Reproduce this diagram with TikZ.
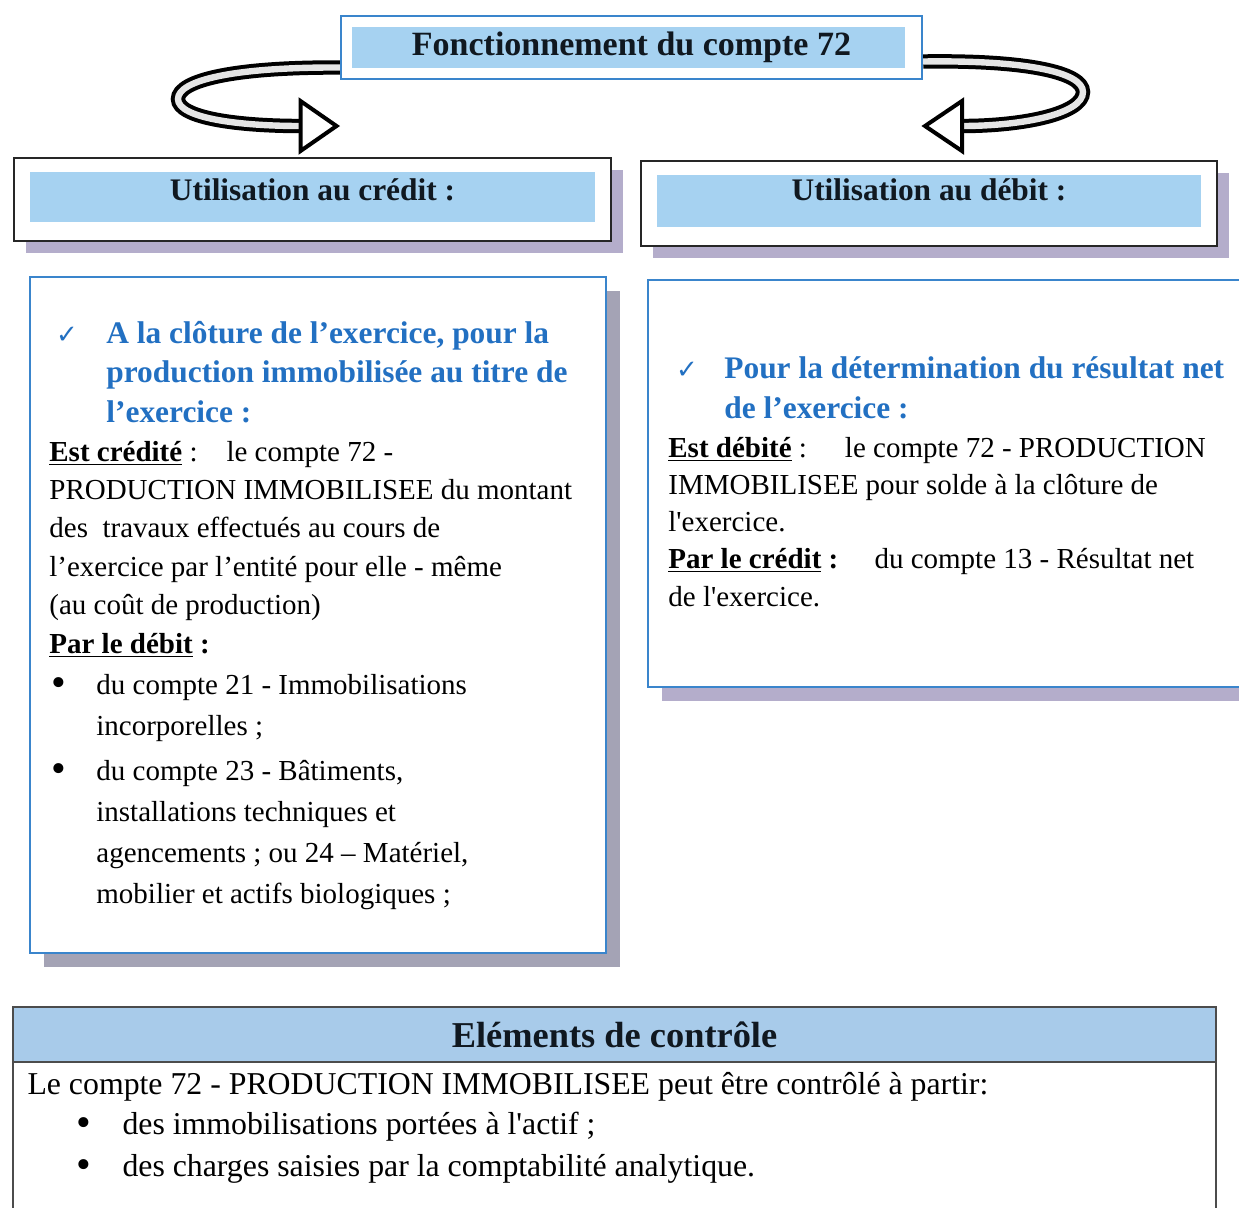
\documentclass[tikz,border=0pt]{standalone}
\usepackage{fontspec}
\setmainfont{Liberation Serif}
\newfontfamily\symbfont{DejaVu Sans}
\usepackage{xcolor}
\usepackage{tikz}
\usetikzlibrary{positioning,shadows,backgrounds}

\newcommand{\fsz}[2]{\fontsize{#1}{#2}\selectfont}

\begin{document}
\begin{tikzpicture}[
  x=0.5pt, y=-0.5pt,
  font=\fsz{14.5}{19.2},
  titlebox/.style={
    draw=frameblue,
    fill=white,
    line width=1.2pt,
    minimum width=290.5pt,
    minimum height=31.5pt,
    inner sep=0pt,
    text=inkdark,
    font=\bfseries\fsz{17}{20},
    path picture={\fill[bandblue] ([shift={(5.5pt,-5.5pt)}]path picture bounding box.north west)
      rectangle ([shift={(-8.5pt,5.5pt)}]path picture bounding box.south east);}
  },
  usebox/.style={
    draw=black!85,
    fill=white,
    line width=1pt,
    inner sep=0pt,
    text=inkdark,
    font=\bfseries\fsz{15.7}{18},
    general shadow={shadow xshift=6pt,shadow yshift=-6pt,fill=shadelav},
    path picture={\fill[bandblue] ([shift={(8pt,-7pt)}]path picture bounding box.north west)
      rectangle ([shift={(-8pt,9.5pt)}]path picture bounding box.south east);}
  },
  panel/.style={
    draw=frameblue,
    fill=white,
    line width=1pt,
    inner sep=0pt,
    general shadow={shadow xshift=7pt,shadow yshift=-7pt,fill=#1}
  },
  ctrlbox/.style={draw=black!70,fill=white,line width=0.9pt,inner sep=0pt},
  ctrlhead/.style={draw=black!70,fill=headblue,line width=0.9pt,inner sep=0pt,
    text=inkdark,font=\bfseries\fsz{18.2}{20}},
  ribbon/.style={draw=black,line width=2pt,double=black!10,double distance=3.2pt},
  ribbonhead/.style={draw=black,fill=white,line width=2pt,line join=miter},
  bluehead/.style={anchor=base west,inner sep=0pt,align=left,text=textblue,
    font=\bfseries\fsz{15.7}{19.75}},
  tick/.style={anchor=base,inner sep=0pt,text=textblue,font=\symbfont\fsz{13}{14}},
  bodytext/.style={anchor=base west,inner sep=0pt,align=left},
  dot/.style={anchor=base,inner sep=0pt,font=\fsz{21}{22}}
]
\definecolor{frameblue}{HTML}{3A85CC}
\definecolor{bandblue}{HTML}{A6D2F1}
\definecolor{headblue}{HTML}{A8CBEA}
\definecolor{textblue}{HTML}{2270C2}
\definecolor{shadelav}{HTML}{B4ADCB}
\definecolor{shadegrey}{HTML}{A4A3B5}
\definecolor{inkdark}{HTML}{101820}

\path[use as bounding box,fill=white] (0,0) rectangle (1239,1207);

% top and the two uses
\node[titlebox] (title) at (631.5,47.5) {Fonctionnement du compte 72};
\node[usebox, minimum width=298.5pt, minimum height=41.5pt, text depth=9.5pt] (credit) at (312.5,199.5) {Utilisation au crédit :};
\node[usebox, minimum width=288pt, minimum height=42.5pt, text depth=13.5pt, right=14pt of credit, yshift=-2pt] (debit) {Utilisation au débit :};

\node[panel=shadegrey, minimum width=288pt, minimum height=338pt, below=17pt of credit, xshift=2.75pt] (lbox) {};
\node[panel=shadelav, minimum width=302pt, minimum height=203.5pt, below=16pt of debit, xshift=10.5pt] (rbox) {};

% ribbons
\coordinate (lstart) at ([shift={(0,20)}]title.west);
\coordinate (ltip) at ([shift={(24,-31)}]credit.north);
\coordinate (lbase) at ([shift={(-36,0)}]ltip);
\draw[ribbon] (lstart) .. controls (235,67) and (178,80) .. (178,99) .. controls (178,118) and (238,126) .. (lbase);
\draw[ribbonhead] ([shift={(0,-25)}]lbase) -- (ltip) -- ([shift={(0,25)}]lbase) -- cycle;

\coordinate (rstart) at ([shift={(0,14)}]title.east);
\coordinate (rtip) at ([shift={(-4,-34)}]debit.north);
\coordinate (rbase) at ([shift={(37,0)}]rtip);
\draw[ribbon] (rstart) .. controls (1025,60) and (1083,72) .. (1083,92) .. controls (1083,114) and (1022,126) .. (rbase);
\draw[ribbonhead] ([shift={(0,-25)}]rbase) -- (rtip) -- ([shift={(0,25)}]rbase) -- cycle;

% left panel (base of a block = its last line)
\node[tick] (lcheck) at ([shift={(38,67)}]lbox.north west) {✓};
\node[bluehead] (lhead) at ([shift={(77,146)}]lbox.north west) {A la clôture de l’exercice, pour la\\production immobilisée au titre de\\l’exercice :};
\node[bodytext] (lbody) at ([shift={(20,377)}]lbox.north west) {\underline{\textbf{Est crédité}} :\quad le compte 72 -\\
  PRODUCTION IMMOBILISEE du montant\\
  des~ travaux effectués au cours de\\
  l’exercice par l’entité pour elle - même\\
  (au coût de production)\\
  \underline{\textbf{Par le débit}} \textbf{:}};
\node[dot] (ldot1) at ([shift={(30,420)}]lbox.north west) {•};
\node[bodytext, font=\fsz{14.5}{20.5}] (litem1) at ([shift={(67,459)}]lbox.north west) {du compte 21 - Immobilisations\\incorporelles ;};
\node[dot] (ldot2) at ([shift={(30,506)}]lbox.north west) {•};
\node[bodytext, font=\fsz{14.5}{20.5}] (litem2) at ([shift={(67,627)}]lbox.north west) {du compte 23 - Bâtiments,\\
  installations techniques et\\
  agencements ; ou 24 – Matériel,\\
  mobilier et actifs biologiques ;};

% right panel
\node[tick] (rcheck) at ([shift={(40,99)}]rbox.north west) {✓};
\node[bluehead] (rhead) at ([shift={(77,139)}]rbox.north west) {Pour la détermination du résultat net\\de l’exercice :};
\node[bodytext, font=\fsz{14.5}{18.625}] (rbody) at ([shift={(21,327)}]rbox.north west) {\underline{\textbf{Est débité}} :\hspace{19pt}le compte 72 - PRODUCTION\\
  IMMOBILISEE pour solde à la clôture de\\
  l\textquotesingle exercice.\\
  \underline{\textbf{Par le crédit}} \textbf{:}\quad\ du compte 13 - Résultat net\\
  de l\textquotesingle exercice.};

% controle
\node[ctrlbox, minimum width=601.5pt, minimum height=104pt] (ctrl) at (614.5,1111) {};
\node[ctrlhead, minimum width=601.5pt, minimum height=27.5pt, anchor=north] (ctrlhead) at (ctrl.north) {Eléments de contrôle};
\node[bodytext, font=\fsz{15.9}{20.5}] (ctrltext) at ([shift={(15,88)}]ctrl.north west) {Le compte 72 - PRODUCTION IMMOBILISEE peut être contrôlé à partir:};
\node[dot] (cdot1) at ([shift={(72,130)}]ctrl.north west) {•};
\node[bodytext, font=\fsz{15.9}{20.5}] (citem1) at ([shift={(110,128)}]ctrl.north west) {des immobilisations portées à l\textquotesingle actif ;};
\node[dot] (cdot2) at ([shift={(72,172)}]ctrl.north west) {•};
\node[bodytext, font=\fsz{15.9}{20.5}] (citem2) at ([shift={(110,170)}]ctrl.north west) {des charges saisies par la comptabilité analytique.};
\end{tikzpicture}
\end{document}
